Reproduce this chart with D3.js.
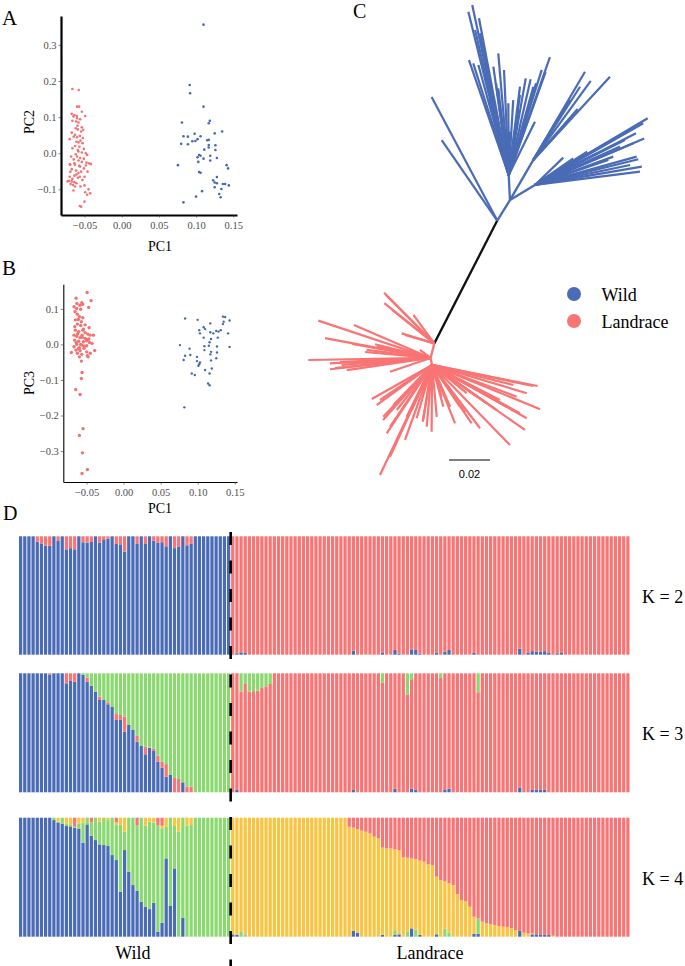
<!DOCTYPE html>
<html><head><meta charset="utf-8">
<script src="https://cdn.jsdelivr.net/npm/d3@7"></script>
<style>
body{margin:0;background:#fff}
svg{display:block}
</style>
</head><body>
<script>
// ---------------- DATA ----------------
const groups = ["Wild", "Landrace"];
const nWild = 51, nLand = 96;

// PCA (A): PC1 vs PC2
const pcaA_wild = [[0.110,0.356],[0.0914,0.189],[0.092,0.166],[0.110,0.129],[0.1185,0.090],[0.117,0.083],[0.081,0.085],[0.135,0.060],[0.125,0.055],[0.098,0.054],[0.083,0.047],[0.089,0.046],[0.106,0.047],[0.102,0.039],[0.095,0.033],[0.099,0.034],[0.115,0.036],[0.117,0.037],[0.080,0.026],[0.089,0.025],[0.117,0.023],[0.126,0.022],[0.117,0.016],[0.111,0.010],[0.126,0.009],[0.104,-0.005],[0.106,-0.007],[0.102,-0.011],[0.110,-0.015],[0.119,-0.007],[0.128,-0.013],[0.103,-0.024],[0.119,-0.020],[0.0756,-0.033],[0.141,-0.033],[0.143,-0.042],[0.104,-0.052],[0.106,-0.054],[0.128,-0.066],[0.123,-0.075],[0.125,-0.081],[0.128,-0.083],[0.136,-0.085],[0.139,-0.085],[0.144,-0.089],[0.125,-0.094],[0.134,-0.099],[0.108,-0.105],[0.131,-0.113],[0.133,-0.122],[0.100,-0.120],[0.083,-0.136]];
const pcaA_land = [[-0.0663,0.178],[-0.0577,0.175],[-0.0600,0.129],[-0.0572,0.129],[-0.0536,0.115],[-0.0672,0.109],[-0.0636,0.106],[-0.0604,0.103],[-0.0649,0.102],[-0.0491,0.103],[-0.0559,0.094],[-0.0663,0.090],[-0.0613,0.088],[-0.0581,0.085],[-0.0595,0.076],[-0.0536,0.072],[-0.0618,0.069],[-0.0590,0.066],[-0.0518,0.065],[-0.0672,0.057],[-0.0627,0.051],[-0.0563,0.048],[-0.0600,0.044],[-0.0522,0.042],[-0.0699,0.039],[-0.0554,0.035],[-0.0609,0.032],[-0.0581,0.030],[-0.0527,0.028],[-0.0627,0.020],[-0.0568,0.018],[-0.0663,0.014],[-0.0509,0.012],[-0.0581,0.005],[-0.0536,0.002],[-0.0618,-0.003],[-0.0464,-0.005],[-0.0600,-0.009],[-0.0559,-0.013],[-0.0509,-0.015],[-0.0645,-0.017],[-0.0581,-0.020],[-0.0536,-0.024],[-0.0473,-0.026],[-0.0437,-0.028],[-0.0414,-0.030],[-0.0699,-0.030],[-0.0627,-0.032],[-0.0690,-0.032],[-0.0482,-0.034],[-0.0559,-0.037],[-0.0509,-0.042],[-0.0672,-0.044],[-0.0613,-0.048],[-0.0690,-0.051],[-0.0545,-0.051],[-0.0459,-0.051],[-0.0581,-0.055],[-0.0609,-0.059],[-0.0636,-0.062],[-0.0699,-0.065],[-0.0500,-0.065],[-0.0590,-0.068],[-0.0663,-0.071],[-0.0726,-0.078],[-0.0672,-0.078],[-0.0636,-0.080],[-0.0609,-0.083],[-0.0686,-0.085],[-0.0654,-0.088],[-0.0500,-0.089],[-0.0554,-0.092],[-0.0446,-0.100],[-0.0649,-0.103],[-0.0491,-0.108],[-0.0423,-0.111],[-0.0464,-0.115],[-0.0500,-0.134],[-0.0563,-0.146],[-0.0545,-0.148],[-0.0645,0.046],[-0.0545,0.060],[-0.0590,0.009],[-0.0636,-0.028],[-0.0563,-0.065],[-0.0708,-0.076],[-0.0627,-0.092],[-0.0527,-0.074],[-0.0600,0.097],[-0.0482,0.000],[-0.0572,-0.035],[-0.0681,-0.009]];

// PCA (B): PC1 vs PC3
const pcaB_wild = [[0.083,0.073],[0.0998,0.069],[0.117,0.059],[0.108,0.048],[0.110,0.043],[0.102,0.040],[0.103,0.031],[0.117,0.034],[0.121,0.031],[0.125,0.038],[0.128,0.036],[0.131,0.040],[0.134,0.078],[0.137,0.077],[0.135,0.064],[0.134,0.057],[0.143,0.067],[0.141,0.031],[0.108,0.019],[0.118,0.015],[0.127,0.019],[0.116,0.006],[0.076,-0.002],[0.109,-0.005],[0.115,-0.004],[0.126,-0.006],[0.143,-0.007],[0.089,-0.012],[0.109,-0.016],[0.118,-0.021],[0.126,-0.023],[0.083,-0.032],[0.090,-0.030],[0.117,-0.028],[0.125,-0.039],[0.099,-0.035],[0.081,-0.044],[0.099,-0.047],[0.103,-0.051],[0.118,-0.045],[0.101,-0.060],[0.110,-0.072],[0.119,-0.068],[0.116,-0.082],[0.092,-0.082],[0.096,-0.086],[0.102,-0.056],[0.114,-0.110],[0.116,-0.115],[0.082,-0.177]];
const pcaB_land = [[-0.0493,0.146],[-0.0642,0.130],[-0.0439,0.123],[-0.0565,0.117],[-0.0552,0.113],[-0.0471,0.104],[-0.0669,0.106],[-0.0633,0.101],[-0.0579,0.099],[-0.0655,0.092],[-0.0624,0.085],[-0.0597,0.078],[-0.0552,0.075],[-0.0651,0.069],[-0.0570,0.064],[-0.0624,0.057],[-0.0579,0.053],[-0.0466,0.047],[-0.0543,0.043],[-0.0651,0.040],[-0.0606,0.036],[-0.0520,0.033],[-0.0484,0.029],[-0.0669,0.026],[-0.0633,0.023],[-0.0561,0.026],[-0.0453,0.026],[-0.0408,0.026],[-0.0588,0.019],[-0.0520,0.017],[-0.0489,0.014],[-0.0660,0.012],[-0.0606,0.009],[-0.0543,0.0075],[-0.0462,0.0056],[-0.0426,0.0028],[-0.0633,0],[-0.0561,-0.002],[-0.0498,-0.004],[-0.0669,-0.0066],[-0.0597,-0.0094],[-0.0534,-0.011],[-0.0705,-0.023],[-0.0642,-0.016],[-0.0588,-0.018],[-0.0498,-0.021],[-0.0390,-0.017],[-0.0624,-0.025],[-0.0565,-0.028],[-0.0489,-0.032],[-0.0480,-0.035],[-0.0597,-0.035],[-0.0570,-0.047],[-0.0561,-0.079],[-0.0570,-0.096],[-0.0646,-0.127],[-0.0588,-0.141],[-0.0547,-0.237],[-0.0597,-0.256],[-0.0556,-0.305],[-0.0489,-0.352],[-0.0561,-0.363],[-0.0620,0.030],[-0.0560,0.020],[-0.0500,0.010],[-0.0640,0.005],[-0.0580,0.000],[-0.0530,-0.005],[-0.0470,0.015],[-0.0610,-0.012],[-0.0550,0.040],[-0.0660,0.050],[-0.0590,0.110],[-0.0630,0.115],[-0.0450,-0.025],[-0.0520,0.055],[-0.0610,0.070]];

const pcXTicks = [-0.05, 0.00, 0.05, 0.10, 0.15];
const pc2Ticks = [-0.1, 0.0, 0.1, 0.2, 0.3];
const pc3Ticks = [-0.3, -0.2, -0.1, 0.0, 0.1];

// Tree (units of 0.001 substitutions/site)
const treeHubs = [["L0",null,2.1,8.1],["L1","L0",0.3,1.0],["L2","L1",1.0,-2.4],
                  ["H1","L0",32.8,68.0],["H2","H1",39.0,78.0],["S","H2",38.4,90.2],["C0","H2",50.4,97.6],["D0","H2",51.2,85.4]];
const wildTipsH1 = [[0.8,128.3],[5.7,107.3]];
const wildTipsS  = [[20.6,173.2],[18.7,169.9],[23.9,166.7],[19.0,146.3],[21.1,144.7],[23.6,143.9],[33.3,149.6],[36.1,141.5],[32.2,135.0],[33.3,132.5],[38.2,125.2],[39.0,111.4],[43.1,122.0],[46.7,137.4],[49.1,136.9],[51.7,135.0],[54.5,141.5],[56.4,140.6],[58.5,147.7],[51.2,116.2],[27.3,137.6],[29.3,126.8],[43.9,129.3],[22.0,161.0],[24.4,159.4],[29.3,135.0],[40.6,126.8],[50.4,133.3],[43.9,133.3],[30.9,143.1]];
const wildTipsC0 = [[75.6,140.6],[78.4,136.2],[87.8,138.2],[72.0,122.4],[68.8,118.0],[73.2,133.3],[68.3,126.8],[65.0,122.0]];
const wildTipsD0 = [[106.2,117.9],[104.0,115.5],[100.5,110.6],[104.5,108.1],[101.6,97.9],[103.3,94.3],[102.4,91.9],[76.7,101.6],[69.9,98.4],[65.0,98.7],[87.0,97.6],[95.1,107.3],[97.6,95.1],[97.6,112.2],[99.2,105.7],[100.8,99.2],[89.4,99.2],[81.3,100.8],[92.7,104.1]];
const landTipsL0 = [[-22.4,32.8],[-21.5,31.7],[-22.3,27.7],[-8.1,22.0],[-13.8,13.0],[-18.5,24.4],[-12.2,12.2]];
const landTipsL1 = [[-54.5,19.2],[-37.1,17.1],[-37.9,7.8],[-26.8,7.7],[-59.4,0],[-48.8,-4.5],[-19.5,-5.7],[-31.7,3.9],[-43.9,-1.0],[-51.2,10.7],
                    [-48.8,-1.6],[-46.3,-4.0],[-43.1,-2.4],[-40.6,-4.9],[-30.9,4.9],[-26.0,6.5],[-17.9,0],[-15.5,4.9],[-8.9,1.6],[-4.9,4.9]];
const landTipsL2 = [[-28.4,-19.0],[-26.0,-22.0],[-17.9,-22.0],[-21.1,-35.8],[-24.4,-56.1],[-19.5,-47.2],[-6.5,-28.4],[-3.6,-30.1],[0.8,-35.0],[-12.2,-39.0],[-22.9,-29.3],
                    [6.5,-22.8],[12.2,-30.9],[20.3,-30.9],[24.4,-33.3],[39.0,-41.5],[46.3,-34.1],[53.7,-24.0],[47.2,-28.4],[52.5,-12.7],[43.9,-26.0],[34.1,-19.5],[17.1,-25.4],
                    [-24.4,-19.5],[-22.8,-27.7],[-19.5,-32.5],[-16.2,-24.4],[-11.4,-27.7],[-8.9,-24.4],[-3.3,-29.3],[-1.6,-32.5],[3.3,-27.7],[5.7,-17.9],[9.8,-22.8],[14.6,-22.8],[17.9,-16.2],[22.8,-17.9],[27.7,-21.1],[32.5,-24.4],[37.4,-22.8],[42.3,-17.9],[47.2,-16.2],[40.6,-12.2],[50.4,-12.7]];
const scaleBarValue = 0.02;

// ADMIXTURE  (Wild: 51 samples, Landrace: 96 samples)
const k2WildRed = [0,0,0,0,0.045,0.06,0.08,0.08,0,0.04, 0,0.11,0.10,0.11,0,0.05,0.053,0.048,0,0.053, 0.025,0.02,0,0.065,0.068,0.13,0,0,0.065,0, 0.065,0,0.037,0.056,0.05,0.085,0,0.10,0.09,0, 0.076,0.06,0,0,0,0,0,0,0,0, 0];
const k2LandBlue = [0,0.012,0.02,0.015,0,0,0,0,0,0, 0,0,0,0,0,0,0,0,0,0, 0,0,0,0,0,0,0,0,0,0.035, 0,0,0,0,0,0,0.015,0,0,0.04, 0.01,0,0,0.045,0.04,0.01,0,0,0,0.015, 0,0.025,0.04,0,0,0,0,0,0.015,0, 0,0,0,0,0,0,0,0,0,0.05, 0,0.015,0.03,0.025,0.025,0.03,0.015,0,0.012,0.015, 0,0,0,0,0,0,0,0,0,0, 0,0,0,0,0,0];

const k3WildBlue = [1,1,1,1,1,1,1,0.99,1,1, 1,0.916,0.936,0.93,1,0.986,0.93,0.896,0.846,0.776, 0.776,0.74,0.72,0.608,0.608,0.51,0.566,0.524,0.426,0.389, 0.319,0.375,0.347,0.258,0.207,0.131,0.146,0,0,0.084, 0,0,0,0,0,0,0,0,0,0, 0];
const k3WildRed = [0,0,0,0,0,0,0,0.01,0,0, 0,0.084,0.064,0.07,0,0,0.034,0,0,0.028, 0,0.017,0,0.05,0.042,0.126,0,0,0.048,0, 0.064,0,0.022,0.05,0.05,0.106,0,0.12,0.112,0, 0.048,0.048,0,0,0,0,0,0,0,0, 0];
const k3LandBlue = [0,0.02,0,0,0,0,0,0,0,0, 0,0,0,0,0,0,0,0,0,0, 0,0,0,0,0,0,0,0,0,0.02, 0,0,0,0,0,0,0,0,0,0.03, 0,0,0,0.03,0.02,0,0,0,0,0, 0,0.02,0.03,0,0,0,0,0,0,0, 0,0,0,0,0,0,0,0,0,0.04, 0,0,0.02,0.02,0.02,0.02,0,0,0,0, 0,0,0,0,0,0,0,0,0,0, 0,0,0,0,0,0];
const k3LandGreen = [0,0,0.154,0.084,0.154,0.15,0.146,0.118,0.11,0.09, 0,0,0,0,0,0,0,0,0,0, 0,0,0,0,0,0,0,0,0,0, 0,0,0,0,0,0,0.08,0,0,0, 0,0,0.18,0.05,0,0,0,0,0,0, 0.04,0,0,0,0,0,0,0,0,0.16, 0,0,0,0,0,0,0,0,0,0, 0,0,0,0,0,0,0,0,0,0, 0,0,0,0,0,0,0,0,0,0, 0,0,0,0,0,0];

const k4WildBlue = [1,1,1,1,1,1,1,1,0.98,0.96, 0.95,0.93,0.927,0.916,0.905,0.79,0.944,0.849,0.812,0.776, 0.77,0.762,0.686,0.644,0.378,0.728,0.546,0.434,0.384,0.294, 0.252,0.232,0.286,0.042,0.118,0.658,0.258,0.574,0,0.16, 0,0,0,0,0,0,0,0,0,0, 0];
const k4WildYellow = [0,0,0,0,0,0,0,0,0,0.034, 0,0.048,0.056,0,0.048,0.04,0,0,0,0.034, 0,0.02,0,0.022,0.056,0.118,0,0,0,0, 0.067,0.034,0.04,0,0.022,0.076,0,0.07,0.118,0, 0.067,0.062,0,0,0,0,0,0,0,0, 0];
const k4WildRed = [0,0,0,0,0,0,0,0,0,0, 0,0,0,0.076,0,0,0,0.04,0,0, 0,0,0,0.04,0,0,0,0,0.062,0, 0,0,0,0.062,0.067,0,0,0,0,0, 0,0,0,0,0,0,0,0,0,0, 0];
const k4LandBlue = [0.02,0.015,0,0,0,0,0,0,0,0, 0,0,0,0,0,0,0,0,0,0, 0,0,0,0,0,0,0,0,0,0.048, 0.034,0,0,0,0,0,0.015,0,0,0.015, 0.02,0,0,0.07,0,0.015,0,0,0,0.02, 0,0,0,0,0,0,0,0,0.025,0.024, 0,0,0,0,0,0,0,0,0,0.048, 0,0,0.02,0.02,0.02,0.014,0.014,0,0,0, 0,0,0,0,0,0,0,0,0,0, 0,0,0,0,0,0];
const k4LandGreen = [0,0,0.04,0.02,0,0,0,0,0,0, 0,0,0,0,0,0,0,0,0,0, 0,0,0,0,0,0,0,0,0,0, 0,0,0,0,0,0,0,0,0,0.04, 0,0,0.04,0,0.06,0,0,0,0,0, 0,0.07,0.036,0,0,0,0,0,0,0.13, 0,0,0,0,0,0,0,0,0,0, 0,0,0,0,0,0,0,0,0,0, 0,0,0,0,0,0,0,0,0,0, 0,0,0,0,0,0];
const k4LandRed = [0,0,0,0,0,0,0,0,0,0, 0,0,0,0,0,0,0,0,0,0, 0,0,0,0,0,0,0,0,0.076,0.084, 0.095,0.109,0.118,0.132,0.16,0.174,0.252,0.258,0.258,0.266, 0.272,0.333,0.336,0.342,0.35,0.361,0.37,0.392,0.398,0.496, 0.524,0.532,0.552,0.566,0.644,0.692,0.70,0.748,0.832,0.846, 0.874,0.888,0.896,0.902,0.91,0.916,0.919,0.93,0.944,0.952, 0.966,0.972,0.972,0.98,0.98,0.986,0.986,0.992,1,1, 1,1,1,1,1,1,1,1,1,1, 1,1,1,1,1,1];

const kLabels = ["K = 2", "K = 3", "K = 4"];

// ---------------- STYLE ----------------
const C = {blue:"#4A6BB5", red:"#F97474", green:"#8AD870", yellow:"#F8C441", ptRed:"#F37272", ptBlue:"#4867B3"};
const SERIF = "'Liberation Serif','Times New Roman',Times,serif";
const SANS = "'Liberation Sans',Arial,Helvetica,sans-serif";

const svg = d3.select("body").append("svg").attr("width",685).attr("height",966);

function label(txt,x,y,size,opts={}) {
  const t = svg.append("text").attr("x",x).attr("y",y).attr("font-size",size).text(txt)
    .attr("fill",opts.fill||"#000").attr("text-anchor",opts.anchor||"start")
    .style("font-family",opts.family||SERIF);
  if (opts.rotate) t.attr("transform",`rotate(-90,${x},${y})`);
  return t;
}

// ---------------- PCA ----------------
function drawPCA(cfg){
  const g = svg.append("g");
  const x = d3.scaleLinear().domain(cfg.xDom).range(cfg.xRange);
  const y = d3.scaleLinear().domain(cfg.yDom).range(cfg.yRange);
  g.append("g").selectAll("circle").data(cfg.land).join("circle")
    .attr("cx",d=>x(d[0])).attr("cy",d=>y(d[1])).attr("r",cfg.rLand).attr("fill",C.ptRed);
  g.append("g").selectAll("circle").data(cfg.wild).join("circle")
    .attr("cx",d=>x(d[0])).attr("cy",d=>y(d[1])).attr("r",cfg.rWild).attr("fill",C.ptBlue);
  const ax = g.append("g").attr("transform",`translate(0,${cfg.yRange[0]})`)
    .call(d3.axisBottom(x).tickValues(pcXTicks).tickFormat(d3.format(".2f")).tickSize(2.5).tickSizeOuter(0).tickPadding(4));
  const ay = g.append("g").attr("transform",`translate(${cfg.xRange[0]},0)`)
    .call(d3.axisLeft(y).tickValues(cfg.yTicks).tickFormat(d3.format(".1f")).tickSize(2.5).tickSizeOuter(0).tickPadding(2));
  [ax,ay].forEach(a=>{
    a.attr("font-family",null);
    a.select(".domain").attr("stroke","#000").attr("stroke-width",cfg.lw);
    a.selectAll(".tick line").attr("stroke","#333").attr("stroke-width",0.6);
    a.selectAll("text").attr("fill","#4D4D4D").attr("font-size",10.5).style("font-family",SERIF);
  });
  label("PC1", cfg.xTitle[0], cfg.xTitle[1], 14, {anchor:"middle"});
  label(cfg.yName, cfg.yTitle[0], cfg.yTitle[1], 14, {anchor:"middle", rotate:true});
}
drawPCA({xDom:[-0.0816,0.155], xRange:[61,237], yDom:[-0.171,0.38], yRange:[215,16],
  wild:pcaA_wild, land:pcaA_land, rWild:1.3, rLand:1.3, lw:2.2, yTicks:pc2Ticks,
  xTitle:[160,251], yTitle:[34,122], yName:"PC2"});
drawPCA({xDom:[-0.0814,0.153], xRange:[63.3,237], yDom:[-0.387,0.169], yRange:[482,284.3],
  wild:pcaB_wild, land:pcaB_land, rWild:1.2, rLand:1.7, lw:1.1, yTicks:pc3Ticks,
  xTitle:[160,513], yTitle:[34,383], yName:"PC3"});

label("A",2,25,21); label("B",2,275,21); label("C",353,18,20); label("D",3,520,20);

// ---------------- TREE ----------------
const xT = d3.scaleLinear().domain([0,20]).range([430,471]);
const yT = d3.scaleLinear().domain([0,20]).range([360,319]);
const hub = {}; treeHubs.forEach(h=>hub[h[0]]=h);
const segs = [];
treeHubs.forEach(h=>{ if(h[1]) {
  const p = hub[h[1]];
  const col = (h[0]==="H1") ? "#111" : (h[0][0]==="L" ? C.red : C.blue);
  segs.push({x1:p[2],y1:p[3],x2:h[2],y2:h[3],c:col, w:2.3});
}});
function addTips(tips, parent, col){ const p=hub[parent]; tips.forEach(t=>segs.push({x1:p[2],y1:p[3],x2:t[0],y2:t[1],c:col,w:2.2})); }
addTips(wildTipsH1,"H1",C.blue); addTips(wildTipsS,"S",C.blue); addTips(wildTipsC0,"C0",C.blue); addTips(wildTipsD0,"D0",C.blue);
addTips(landTipsL0,"L0",C.red); addTips(landTipsL1,"L1",C.red); addTips(landTipsL2,"L2",C.red);
svg.append("g").selectAll("line").data(segs).join("line")
  .attr("x1",d=>xT(d.x1)).attr("y1",d=>yT(d.y1)).attr("x2",d=>xT(d.x2)).attr("y2",d=>yT(d.y2))
  .attr("stroke",d=>d.c).attr("stroke-width",d=>d.w).attr("stroke-linecap","butt");
// scale bar
const sbLen = xT(scaleBarValue*1000)-xT(0);
svg.append("line").attr("x1",449).attr("x2",449+sbLen).attr("y1",460).attr("y2",460).attr("stroke","#000").attr("stroke-width",1);
label(String(scaleBarValue), 449+sbLen/2, 478, 11, {anchor:"middle", family:SANS});
// legend
[[groups[0],C.blue,294],[groups[1],C.red,321]].forEach(([n,c,y])=>{
  svg.append("circle").attr("cx",574).attr("cy",y).attr("r",7).attr("fill",c);
  label(n,601.5,y+6.5,18);
});

// ---------------- ADMIXTURE ----------------
const nAll = nWild + nLand;
const xB = d3.scaleBand().domain(d3.range(nAll)).range([19,629.5]).paddingInner(0.22).paddingOuter(0);
function stackRows(K){
  const rows=[];
  for(let i=0;i<nAll;i++){
    const w = i<nWild, j = w? i : i-nWild;
    let comps;
    if(K===2){
      comps = w ? [[C.blue,1-k2WildRed[j]],[C.red,k2WildRed[j]]] : [[C.blue,k2LandBlue[j]],[C.red,1-k2LandBlue[j]]];
    } else if(K===3){
      comps = w ? [[C.blue,k3WildBlue[j]],[C.red,k3WildRed[j]],[C.green,Math.max(0,1-k3WildBlue[j]-k3WildRed[j])]]
                : [[C.blue,k3LandBlue[j]],[C.red,Math.max(0,1-k3LandBlue[j]-k3LandGreen[j])],[C.green,k3LandGreen[j]]];
    } else {
      comps = w ? [[C.blue,k4WildBlue[j]],[C.green,Math.max(0,1-k4WildBlue[j]-k4WildYellow[j]-k4WildRed[j])],[C.yellow,k4WildYellow[j]],[C.red,k4WildRed[j]]]
                : [[C.blue,k4LandBlue[j]],[C.green,k4LandGreen[j]],[C.yellow,Math.max(0,1-k4LandBlue[j]-k4LandGreen[j]-k4LandRed[j])],[C.red,k4LandRed[j]]];
    }
    let acc=0;
    comps.forEach(([c,v])=>{ if(v>0){ rows.push({i,c,y0:acc,y1:Math.min(1,acc+v)}); acc+=v; } });
  }
  return rows;
}
const panels = [{K:2,top:536.3,bot:654.7},{K:3,top:673.3,bot:792.3},{K:4,top:817.7,bot:936.7}];
panels.forEach((p,pi)=>{
  const y = d3.scaleLinear().domain([0,1]).range([p.bot,p.top]);
  svg.append("g").selectAll("rect").data(stackRows(p.K)).join("rect")
    .attr("x",d=>xB(d.i)).attr("width",xB.bandwidth())
    .attr("y",d=>y(d.y1)).attr("height",d=>y(d.y0)-y(d.y1)).attr("fill",d=>d.c);
  label(kLabels[pi],642,(p.top+p.bot)/2+7.5,18);
});
const xDiv = xB(nWild) - xB.step()*xB.paddingInner()/2;
svg.append("line").attr("x1",xDiv).attr("x2",xDiv).attr("y1",532).attr("y2",966)
  .attr("stroke","#000").attr("stroke-width",2.6).attr("stroke-dasharray","13,15.5");
label(groups[0],(xB(0)+xDiv)/2+8,959,18,{anchor:"middle"});
label(groups[1],(xDiv+xB(nAll-1)+xB.bandwidth())/2,959,18,{anchor:"middle"});
</script>
</body></html>
